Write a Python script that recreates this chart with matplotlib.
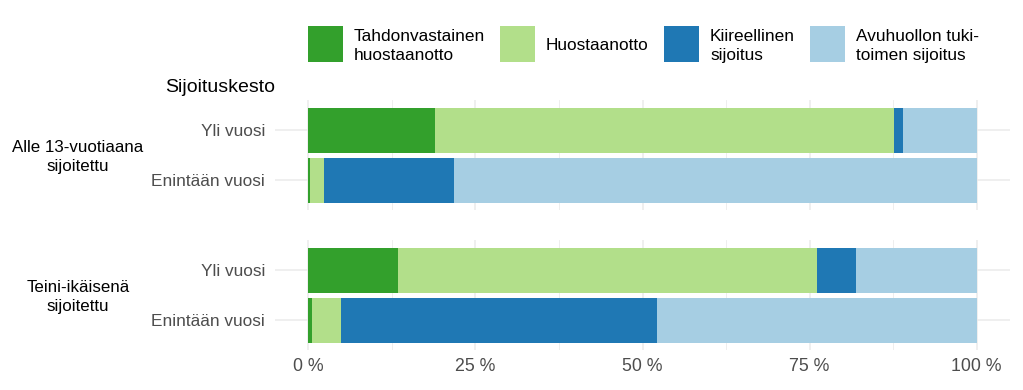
import matplotlib
matplotlib.use("Agg")
import matplotlib.pyplot as plt
import numpy as np
from matplotlib.patches import Rectangle

plt.rcParams['font.family'] = ['Liberation Sans', 'DejaVu Sans']

series = ["Tahdonvastainen\nhuostaanotto", "Huostaanotto", "Kiireellinen\nsijoitus", "Avuhuollon tuki-\ntoimen sijoitus"]
colors = ["#33a02c", "#b2df8a", "#1f78b4", "#a6cee3"]
groups = ["Alle 13-vuotiaana\nsijoitettu", "Teini-ikäisenä\nsijoitettu"]
durations = ["Enintään vuosi", "Yli vuosi"]  # bottom to top
# values[group][duration] = shares per series (%)
values = {
    "Alle 13-vuotiaana\nsijoitettu": {
        "Yli vuosi": [19.0, 68.7, 1.3, 11.0],
        "Enintään vuosi": [0.2, 2.2, 19.45, 78.15],
    },
    "Teini-ikäisenä\nsijoitettu": {
        "Yli vuosi": [13.4, 62.7, 5.9, 18.0],
        "Enintään vuosi": [0.6, 4.25, 47.3, 47.85],
    },
}
xticks = [0, 25, 50, 75, 100]
xticklabels = ["0 %", "25 %", "50 %", "75 %", "100 %"]

W, H = 1023, 390
fig = plt.figure(figsize=(W / 100, H / 100), dpi=100)

def px_axes(left, top, right, bottom):
    return fig.add_axes([left / W, 1 - bottom / H, (right - left) / W, (bottom - top) / H])

grid_col = "#ebebeb"
panels = [(100, 210), (240, 350)]
axes = []
for gi, (g, (top, bot)) in enumerate(zip(groups, panels)):
    ax = px_axes(274.9, top, 1010.1, bot)
    axes.append(ax)
    ax.set_xlim(-5, 105)
    ax.set_ylim(0.4, 2.6)
    for x in xticks:
        ax.axvline(x, color=grid_col, lw=1.1, zorder=0)
    for x in [12.5, 37.5, 62.5, 87.5]:
        ax.axvline(x, color=grid_col, lw=0.6, zorder=0)
    for yi in [1, 2]:
        ax.axhline(yi, color=grid_col, lw=1.1, zorder=0)
    for di, d in enumerate(durations):
        left = 0.0
        for si, v in enumerate(values[g][d]):
            ax.barh(di + 1, v, left=left, height=0.9, color=colors[si], zorder=2, linewidth=0)
            left += v
    ax.set_yticks([1, 2])
    ax.set_yticklabels(durations, fontsize=12.4, color="#4d4d4d")
    ax.tick_params(axis='y', length=0, pad=7)
    ax.set_xticks(xticks)
    if gi == 1:
        ax.set_xticklabels(xticklabels, fontsize=12.8, color="#4d4d4d")
        ax.tick_params(axis='x', length=0, pad=6)
    else:
        ax.set_xticklabels([])
        ax.tick_params(axis='x', length=0)
    for s in ax.spines.values():
        s.set_visible(False)
    cy = (top + bot) / 2 + 2
    fig.text(78 / W, 1 - cy / H, g, ha='center', va='center', fontsize=12.2, color="black", linespacing=1.25)

fig.text(165 / W, 1 - 88 / H, "Sijoituskesto", ha='left', va='center', fontsize=14, color="black")

# legend
key_x = [308, 500, 664, 810]
for kx, lab, c in zip(key_x, series, colors):
    fig.patches.append(Rectangle((kx / W, 1 - 62 / H), 35 / W, 36 / H, transform=fig.transFigure,
                                 facecolor=c, edgecolor='none'))
    cy = 46 if "\n" in lab else 45
    fig.text((kx + 46) / W, 1 - cy / H, lab, ha='left', va='center', fontsize=12.4, color="black", linespacing=1.3)

fig.savefig("out.png", dpi=100)
